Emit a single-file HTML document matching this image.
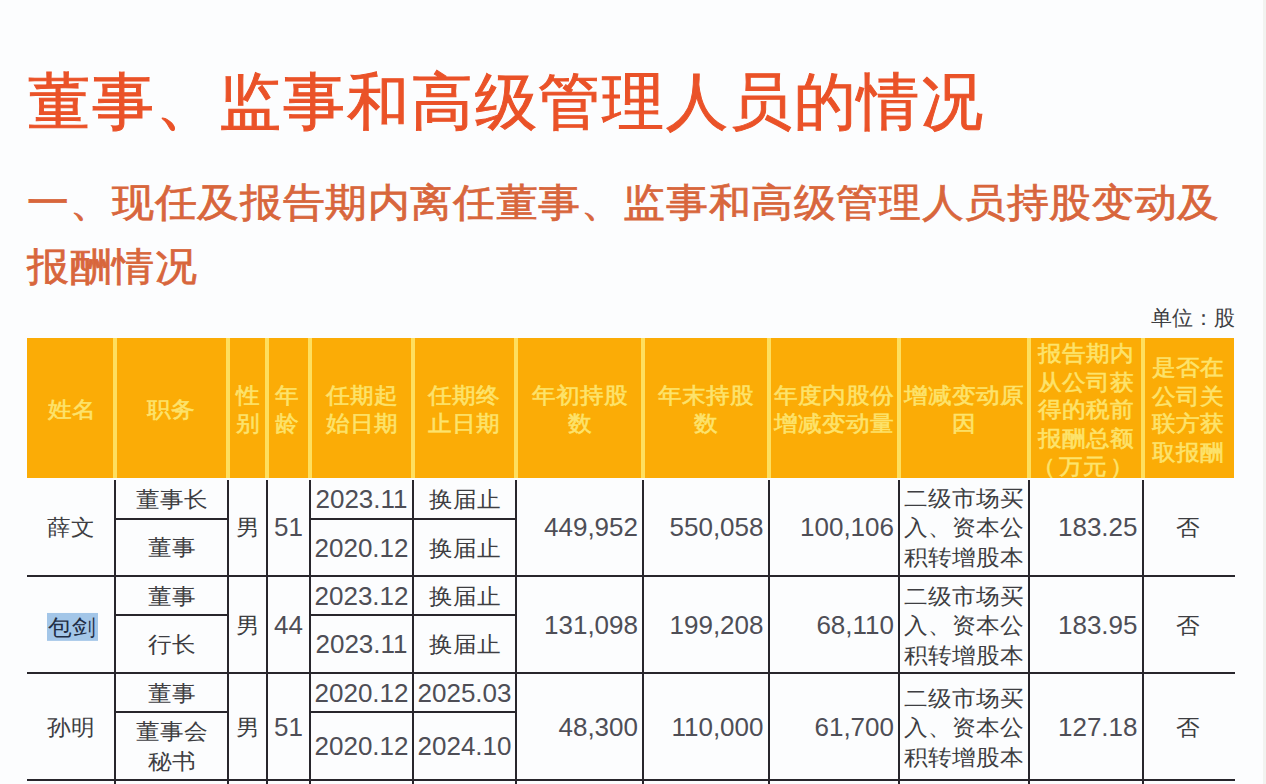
<!DOCTYPE html><html><head><meta charset="utf-8"><style>
html,body{margin:0;padding:0;}
body{text-spacing-trim:space-all;width:1266px;height:784px;overflow:hidden;position:relative;background:#FCFDFE;font-family:"Liberation Sans",sans-serif;}
.a{position:absolute;}
.t{position:absolute;white-space:nowrap;line-height:1;}
.c{position:absolute;display:flex;align-items:center;justify-content:center;text-align:center;white-space:nowrap;}
.r{position:absolute;display:flex;align-items:center;justify-content:flex-end;white-space:nowrap;}
</style></head><body>

<div class="t" style="left:28px;top:71px;font-size:62px;letter-spacing:1.8px;color:#EA5228;-webkit-text-stroke:1px #EA5228;">董事、监事和高级管理人员的情况</div>
<div class="t" style="left:27px;top:183px;font-size:42px;letter-spacing:0.6px;color:#D8663C;-webkit-text-stroke:0.8px #D8663C;transform:scaleY(0.93);transform-origin:0 0;">一、现任及报告期内离任董事、监事和高级管理人员持股变动及</div>
<div class="t" style="left:27px;top:247px;font-size:42px;letter-spacing:0.6px;color:#D8663C;-webkit-text-stroke:0.8px #D8663C;transform:scaleY(0.93);transform-origin:0 0;">报酬情况</div>
<div class="t" style="left:1151px;top:307px;font-size:21px;color:#3E3E42;">单位：股</div>
<div class="a" style="left:27px;top:338px;width:1207px;height:140px;background:#FBAC06;"></div>
<div class="a" style="left:113px;top:338px;width:4px;height:140px;background:#FEDF5E;"></div>
<div class="a" style="left:226px;top:338px;width:4px;height:140px;background:#FEDF5E;"></div>
<div class="a" style="left:265px;top:338px;width:4px;height:140px;background:#FEDF5E;"></div>
<div class="a" style="left:308px;top:338px;width:4px;height:140px;background:#FEDF5E;"></div>
<div class="a" style="left:411px;top:338px;width:4px;height:140px;background:#FEDF5E;"></div>
<div class="a" style="left:514px;top:338px;width:4px;height:140px;background:#FEDF5E;"></div>
<div class="a" style="left:641px;top:338px;width:4px;height:140px;background:#FEDF5E;"></div>
<div class="a" style="left:766.5px;top:338px;width:4px;height:140px;background:#FEDF5E;"></div>
<div class="a" style="left:897px;top:338px;width:4px;height:140px;background:#FEDF5E;"></div>
<div class="a" style="left:1027px;top:338px;width:4px;height:140px;background:#FEDF5E;"></div>
<div class="a" style="left:1140.5px;top:338px;width:4px;height:140px;background:#FEDF5E;"></div>
<div class="c" style="left:28.5px;top:340px;width:86.0px;height:140px;font-size:23.8px;line-height:30.6px;color:#FDE36C;-webkit-text-stroke:0.6px #FDE36C;"><div style="transform:scaleY(0.93)">姓名</div></div>
<div class="c" style="left:116.5px;top:340px;width:109.0px;height:140px;font-size:23.8px;line-height:30.6px;color:#FDE36C;-webkit-text-stroke:0.6px #FDE36C;"><div style="transform:scaleY(0.93)">职务</div></div>
<div class="c" style="left:230px;top:340px;width:35px;height:140px;font-size:23.8px;line-height:30.6px;color:#FDE36C;-webkit-text-stroke:0.6px #FDE36C;"><div style="transform:scaleY(0.93)">性<br>别</div></div>
<div class="c" style="left:267.5px;top:340px;width:39.0px;height:140px;font-size:23.8px;line-height:30.6px;color:#FDE36C;-webkit-text-stroke:0.6px #FDE36C;"><div style="transform:scaleY(0.93)">年<br>龄</div></div>
<div class="c" style="left:312px;top:340px;width:99px;height:140px;font-size:23.8px;line-height:30.6px;color:#FDE36C;-webkit-text-stroke:0.6px #FDE36C;"><div style="transform:scaleY(0.93)">任期起<br>始日期</div></div>
<div class="c" style="left:414.5px;top:340px;width:99.0px;height:140px;font-size:23.8px;line-height:30.6px;color:#FDE36C;-webkit-text-stroke:0.6px #FDE36C;"><div style="transform:scaleY(0.93)">任期终<br>止日期</div></div>
<div class="c" style="left:518px;top:340px;width:123px;height:140px;font-size:23.8px;line-height:30.6px;color:#FDE36C;-webkit-text-stroke:0.6px #FDE36C;"><div style="transform:scaleY(0.93)">年初持股<br>数</div></div>
<div class="c" style="left:645px;top:340px;width:121.5px;height:140px;font-size:23.8px;line-height:30.6px;color:#FDE36C;-webkit-text-stroke:0.6px #FDE36C;"><div style="transform:scaleY(0.93)">年末持股<br>数</div></div>
<div class="c" style="left:770.5px;top:340px;width:126.5px;height:140px;font-size:23.8px;line-height:30.6px;color:#FDE36C;-webkit-text-stroke:0.6px #FDE36C;"><div style="transform:scaleY(0.93)">年度内股份<br>增减变动量</div></div>
<div class="c" style="left:901px;top:340px;width:126px;height:140px;font-size:23.8px;line-height:30.6px;color:#FDE36C;-webkit-text-stroke:0.6px #FDE36C;"><div style="transform:scaleY(0.93)">增减变动原<br>因</div></div>
<div class="c" style="left:1031px;top:340px;width:109.5px;height:140px;font-size:23.8px;line-height:30.6px;color:#FDE36C;-webkit-text-stroke:0.6px #FDE36C;"><div style="transform:scaleY(0.93)">报告期内<br>从公司获<br>得的税前<br>报酬总额<br><span style="margin-left:-6px">（<span style="margin:0 3px">万元</span>）</span></div></div>
<div class="c" style="left:1144.5px;top:340px;width:87.5px;height:140px;font-size:23.8px;line-height:30.6px;color:#FDE36C;-webkit-text-stroke:0.6px #FDE36C;"><div style="transform:scaleY(0.93)">是否在<br>公司关<br>联方获<br>取报酬</div></div>
<div class="a" style="left:27px;top:575px;width:1208px;height:2px;background:#28262C;"></div>
<div class="a" style="left:115px;top:518px;width:113px;height:2px;background:#28262C;"></div>
<div class="a" style="left:310px;top:518px;width:103px;height:2px;background:#28262C;"></div>
<div class="a" style="left:413px;top:518px;width:103px;height:2px;background:#28262C;"></div>
<div class="a" style="left:27px;top:672px;width:1208px;height:2px;background:#28262C;"></div>
<div class="a" style="left:115px;top:614px;width:113px;height:2px;background:#28262C;"></div>
<div class="a" style="left:310px;top:614px;width:103px;height:2px;background:#28262C;"></div>
<div class="a" style="left:413px;top:614px;width:103px;height:2px;background:#28262C;"></div>
<div class="a" style="left:27px;top:779px;width:1208px;height:2px;background:#28262C;"></div>
<div class="a" style="left:115px;top:711px;width:113px;height:2px;background:#28262C;"></div>
<div class="a" style="left:310px;top:711px;width:103px;height:2px;background:#28262C;"></div>
<div class="a" style="left:413px;top:711px;width:103px;height:2px;background:#28262C;"></div>
<div class="a" style="left:114px;top:480px;width:2px;height:304px;background:#28262C;"></div>
<div class="a" style="left:227px;top:480px;width:2px;height:304px;background:#28262C;"></div>
<div class="a" style="left:266px;top:480px;width:2px;height:304px;background:#28262C;"></div>
<div class="a" style="left:309px;top:480px;width:2px;height:304px;background:#28262C;"></div>
<div class="a" style="left:412px;top:480px;width:2px;height:304px;background:#28262C;"></div>
<div class="a" style="left:515px;top:480px;width:2px;height:304px;background:#28262C;"></div>
<div class="a" style="left:642px;top:480px;width:2px;height:304px;background:#28262C;"></div>
<div class="a" style="left:767.5px;top:480px;width:2px;height:304px;background:#28262C;"></div>
<div class="a" style="left:898px;top:480px;width:2px;height:304px;background:#28262C;"></div>
<div class="a" style="left:1028px;top:480px;width:2px;height:304px;background:#28262C;"></div>
<div class="a" style="left:1141.5px;top:480px;width:2px;height:304px;background:#28262C;"></div>
<div class="c" style="left:27px;top:479px;width:87px;height:98px;font-size:24px;line-height:29.5px;color:#3E3E42;"><div style="transform:scaleY(0.93)">薛文</div></div>
<div class="c" style="left:116px;top:479px;width:111px;height:41px;font-size:24px;line-height:29.5px;color:#3E3E42;"><div style="transform:scaleY(0.93)">董事长</div></div>
<div class="c" style="left:116px;top:520px;width:111px;height:57px;font-size:24px;line-height:32.8px;color:#3E3E42;"><div style="transform:scaleY(0.93)">董事</div></div>
<div class="c" style="left:229px;top:479px;width:37px;height:98px;font-size:24px;line-height:29.5px;color:#3E3E42;"><div style="transform:scaleY(0.93)">男</div></div>
<div class="c" style="left:268px;top:479px;width:41px;height:98px;font-size:26px;line-height:29.5px;color:#3E3E42;color:#4E4E56;"><div>51</div></div>
<div class="c" style="left:311px;top:479px;width:101px;height:41px;font-size:26px;line-height:29.5px;color:#3E3E42;color:#4E4E56;"><div>2023.11</div></div>
<div class="c" style="left:311px;top:520px;width:101px;height:57px;font-size:26px;line-height:29.5px;color:#3E3E42;color:#4E4E56;"><div>2020.12</div></div>
<div class="c" style="left:414px;top:479px;width:101px;height:41px;font-size:24px;line-height:29.5px;color:#3E3E42;"><div style="transform:scaleY(0.93)">换届止</div></div>
<div class="c" style="left:414px;top:520px;width:101px;height:57px;font-size:24px;line-height:29.5px;color:#3E3E42;"><div style="transform:scaleY(0.93)">换届止</div></div>
<div class="r" style="left:517px;top:479px;width:125px;height:98px;font-size:26px;line-height:29.5px;color:#3E3E42;padding-right:4px;box-sizing:border-box;color:#4E4E56;"><div>449,952</div></div>
<div class="r" style="left:644px;top:479px;width:123.5px;height:98px;font-size:26px;line-height:29.5px;color:#3E3E42;padding-right:4px;box-sizing:border-box;color:#4E4E56;"><div>550,058</div></div>
<div class="r" style="left:769.5px;top:479px;width:128.5px;height:98px;font-size:26px;line-height:29.5px;color:#3E3E42;padding-right:4px;box-sizing:border-box;color:#4E4E56;"><div>100,106</div></div>
<div class="c" style="left:900px;top:479px;width:128px;height:98px;font-size:24px;line-height:32px;color:#3E3E42;"><div style="transform:scaleY(0.93)">二级市场买<br>入、资本公<br>积转增股本</div></div>
<div class="r" style="left:1030px;top:479px;width:111.5px;height:98px;font-size:26px;line-height:29.5px;color:#3E3E42;padding-right:4px;box-sizing:border-box;color:#4E4E56;"><div>183.25</div></div>
<div class="c" style="left:1143.5px;top:479px;width:89.5px;height:98px;font-size:24px;line-height:29.5px;color:#3E3E42;"><div style="transform:scaleY(0.93)">否</div></div>
<div class="c" style="left:27px;top:577px;width:87px;height:97px;font-size:24px;line-height:29.5px;color:#3E3E42;"><div style="transform:scaleY(0.93)"><span style="background:#A3C6E8;color:#1F2D44;padding:2px 2px 1px 1px;position:relative;left:2px;top:2px;">包剑</span></div></div>
<div class="c" style="left:116px;top:577px;width:111px;height:39px;font-size:24px;line-height:29.5px;color:#3E3E42;"><div style="transform:scaleY(0.93)">董事</div></div>
<div class="c" style="left:116px;top:616px;width:111px;height:58px;font-size:24px;line-height:32.8px;color:#3E3E42;"><div style="transform:scaleY(0.93)">行长</div></div>
<div class="c" style="left:229px;top:577px;width:37px;height:97px;font-size:24px;line-height:29.5px;color:#3E3E42;"><div style="transform:scaleY(0.93)">男</div></div>
<div class="c" style="left:268px;top:577px;width:41px;height:97px;font-size:26px;line-height:29.5px;color:#3E3E42;color:#4E4E56;"><div>44</div></div>
<div class="c" style="left:311px;top:577px;width:101px;height:39px;font-size:26px;line-height:29.5px;color:#3E3E42;color:#4E4E56;"><div>2023.12</div></div>
<div class="c" style="left:311px;top:616px;width:101px;height:58px;font-size:26px;line-height:29.5px;color:#3E3E42;color:#4E4E56;"><div>2023.11</div></div>
<div class="c" style="left:414px;top:577px;width:101px;height:39px;font-size:24px;line-height:29.5px;color:#3E3E42;"><div style="transform:scaleY(0.93)">换届止</div></div>
<div class="c" style="left:414px;top:616px;width:101px;height:58px;font-size:24px;line-height:29.5px;color:#3E3E42;"><div style="transform:scaleY(0.93)">换届止</div></div>
<div class="r" style="left:517px;top:577px;width:125px;height:97px;font-size:26px;line-height:29.5px;color:#3E3E42;padding-right:4px;box-sizing:border-box;color:#4E4E56;"><div>131,098</div></div>
<div class="r" style="left:644px;top:577px;width:123.5px;height:97px;font-size:26px;line-height:29.5px;color:#3E3E42;padding-right:4px;box-sizing:border-box;color:#4E4E56;"><div>199,208</div></div>
<div class="r" style="left:769.5px;top:577px;width:128.5px;height:97px;font-size:26px;line-height:29.5px;color:#3E3E42;padding-right:4px;box-sizing:border-box;color:#4E4E56;"><div>68,110</div></div>
<div class="c" style="left:900px;top:577px;width:128px;height:97px;font-size:24px;line-height:32px;color:#3E3E42;"><div style="transform:scaleY(0.93)">二级市场买<br>入、资本公<br>积转增股本</div></div>
<div class="r" style="left:1030px;top:577px;width:111.5px;height:97px;font-size:26px;line-height:29.5px;color:#3E3E42;padding-right:4px;box-sizing:border-box;color:#4E4E56;"><div>183.95</div></div>
<div class="c" style="left:1143.5px;top:577px;width:89.5px;height:97px;font-size:24px;line-height:29.5px;color:#3E3E42;"><div style="transform:scaleY(0.93)">否</div></div>
<div class="c" style="left:27px;top:674px;width:87px;height:107px;font-size:24px;line-height:29.5px;color:#3E3E42;"><div style="transform:scaleY(0.93)">孙明</div></div>
<div class="c" style="left:116px;top:674px;width:111px;height:39px;font-size:24px;line-height:29.5px;color:#3E3E42;"><div style="transform:scaleY(0.93)">董事</div></div>
<div class="c" style="left:116px;top:713px;width:111px;height:68px;font-size:24px;line-height:32.8px;color:#3E3E42;"><div style="transform:scaleY(0.93)">董事会<br>秘书</div></div>
<div class="c" style="left:229px;top:674px;width:37px;height:107px;font-size:24px;line-height:29.5px;color:#3E3E42;"><div style="transform:scaleY(0.93)">男</div></div>
<div class="c" style="left:268px;top:674px;width:41px;height:107px;font-size:26px;line-height:29.5px;color:#3E3E42;color:#4E4E56;"><div>51</div></div>
<div class="c" style="left:311px;top:674px;width:101px;height:39px;font-size:26px;line-height:29.5px;color:#3E3E42;color:#4E4E56;"><div>2020.12</div></div>
<div class="c" style="left:311px;top:713px;width:101px;height:68px;font-size:26px;line-height:29.5px;color:#3E3E42;color:#4E4E56;"><div>2020.12</div></div>
<div class="c" style="left:414px;top:674px;width:101px;height:39px;font-size:26px;line-height:29.5px;color:#3E3E42;color:#4E4E56;"><div>2025.03</div></div>
<div class="c" style="left:414px;top:713px;width:101px;height:68px;font-size:26px;line-height:29.5px;color:#3E3E42;color:#4E4E56;"><div>2024.10</div></div>
<div class="r" style="left:517px;top:674px;width:125px;height:107px;font-size:26px;line-height:29.5px;color:#3E3E42;padding-right:4px;box-sizing:border-box;color:#4E4E56;"><div>48,300</div></div>
<div class="r" style="left:644px;top:674px;width:123.5px;height:107px;font-size:26px;line-height:29.5px;color:#3E3E42;padding-right:4px;box-sizing:border-box;color:#4E4E56;"><div>110,000</div></div>
<div class="r" style="left:769.5px;top:674px;width:128.5px;height:107px;font-size:26px;line-height:29.5px;color:#3E3E42;padding-right:4px;box-sizing:border-box;color:#4E4E56;"><div>61,700</div></div>
<div class="c" style="left:900px;top:674px;width:128px;height:107px;font-size:24px;line-height:32px;color:#3E3E42;"><div style="transform:scaleY(0.93)">二级市场买<br>入、资本公<br>积转增股本</div></div>
<div class="r" style="left:1030px;top:674px;width:111.5px;height:107px;font-size:26px;line-height:29.5px;color:#3E3E42;padding-right:4px;box-sizing:border-box;color:#4E4E56;"><div>127.18</div></div>
<div class="c" style="left:1143.5px;top:674px;width:89.5px;height:107px;font-size:24px;line-height:29.5px;color:#3E3E42;"><div style="transform:scaleY(0.93)">否</div></div>
<div class="a" style="left:1263px;top:0;width:3px;height:784px;background:#F2F3F0;"></div>
</body></html>
